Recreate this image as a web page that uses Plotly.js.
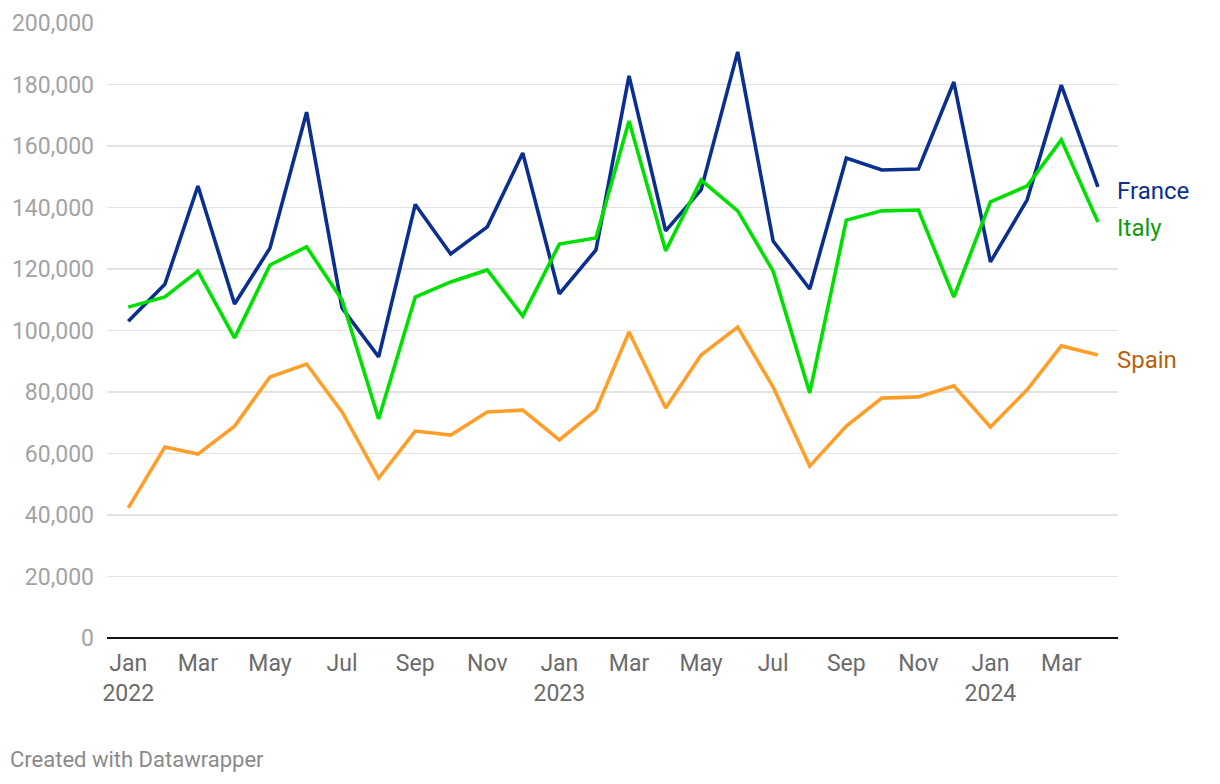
<!DOCTYPE html>
<html>
<head>
<meta charset="utf-8">
<script src="https://cdn.plot.ly/plotly-3.0.1.min.js"></script>
<style>
  html, body { margin: 0; padding: 0; background: #fff; }
  #chart { width: 1220px; height: 784px; }
</style>
</head>
<body>
<div id="chart"></div>
<script>
const months = [
  '2022-01-01','2022-02-01','2022-03-01','2022-04-01','2022-05-01','2022-06-01',
  '2022-07-01','2022-08-01','2022-09-01','2022-10-01','2022-11-01','2022-12-01',
  '2023-01-01','2023-02-01','2023-03-01','2023-04-01','2023-05-01','2023-06-01',
  '2023-07-01','2023-08-01','2023-09-01','2023-10-01','2023-11-01','2023-12-01',
  '2024-01-01','2024-02-01','2024-03-01','2024-04-01'
];
const france = [103000,115000,147000,108600,126800,171000,107300,91400,141000,124900,133700,157700,
                111900,126200,182800,132400,145700,190600,129100,113500,156100,152200,152500,180800,
                122300,142400,179800,146700];
const italy  = [107600,110900,119300,97600,121300,127200,109900,71200,110900,115800,119700,104700,
                128100,130100,168100,125900,148900,138900,119300,79700,135900,138900,139200,110900,
                141800,147000,162000,135300];
const spain  = [42300,62100,59800,68900,84900,89100,73500,52000,67300,66000,73500,74100,
                64400,74100,99500,74800,92000,101100,81600,55900,68900,78000,78400,82000,
                68600,80700,95000,92000];
const tickDates = ['2022-01-01','2022-03-01','2022-05-01','2022-07-01','2022-09-01','2022-11-01',
                   '2023-01-01','2023-03-01','2023-05-01','2023-07-01','2023-09-01','2023-11-01',
                   '2024-01-01','2024-03-01'];
const tickLabels = ['Jan<br>2022','Mar','May','Jul','Sep','Nov',
                    'Jan<br>2023','Mar','May','Jul','Sep','Nov',
                    'Jan<br>2024','Mar'];
const yTicks = [0,20000,40000,60000,80000,100000,120000,140000,160000,180000,200000];

const series = [
  {name: 'France', y: france, color: '#0b2f8f', label: '#0b2f8f', yshift: -4},
  {name: 'Italy',  y: italy,  color: '#00e000', label: '#129a12', yshift: -6},
  {name: 'Spain',  y: spain,  color: '#ff9f29', label: '#b8620a', yshift: -5}
];

const traces = series.map(s => ({
  type: 'scatter', mode: 'lines', x: months, y: s.y, name: s.name,
  line: {color: s.color, width: 3.6}, hoverinfo: 'x+y'
}));

const W = 1220, H = 784, L = 107, R = 102, T = 23, B = 146;

const annotations = series.map(s => ({
  x: months[months.length - 1], y: s.y[s.y.length - 1], xref: 'x', yref: 'y',
  text: s.name, showarrow: false, xanchor: 'left', yanchor: 'middle',
  xshift: 17, yshift: s.yshift,
  font: {family: 'Roboto, sans-serif', size: 24, color: s.label}
}));
annotations.push({
  x: (8 - L) / (W - L - R), y: (H - B - 760) / (H - T - B),
  xref: 'paper', yref: 'paper', text: 'Created with Datawrapper',
  showarrow: false, xanchor: 'left', yanchor: 'middle',
  font: {family: 'Roboto, sans-serif', size: 22, color: '#8a8a8a'}
});

const layout = {
  width: W, height: H,
  margin: {l: L, r: R, t: T, b: B, pad: 0},
  paper_bgcolor: '#fff', plot_bgcolor: '#fff',
  showlegend: false,
  font: {family: 'Roboto, sans-serif'},
  xaxis: {
    type: 'date',
    range: ['2021-12-14', '2024-04-18'],
    tickvals: tickDates, ticktext: tickLabels,
    showgrid: false, zeroline: false,
    showline: false, ticks: '',
    tickfont: {family: 'Roboto, sans-serif', size: 23, color: '#6b6b6b'},
    ticklabelstandoff: 9
  },
  yaxis: {
    range: [0, 200000],
    tickvals: yTicks, tickformat: ',d',
    showgrid: true, gridcolor: '#e3e3e3', gridwidth: 1.4,
    zeroline: true, zerolinecolor: '#111', zerolinewidth: 2.4,
    showline: false, ticks: '',
    tickfont: {family: 'Roboto, sans-serif', size: 23, color: '#a3a3a3'},
    ticklabelstandoff: 12
  },
  annotations: annotations
};

Plotly.newPlot('chart', traces, layout, {displayModeBar: false, staticPlot: true});
</script>
</body>
</html>
